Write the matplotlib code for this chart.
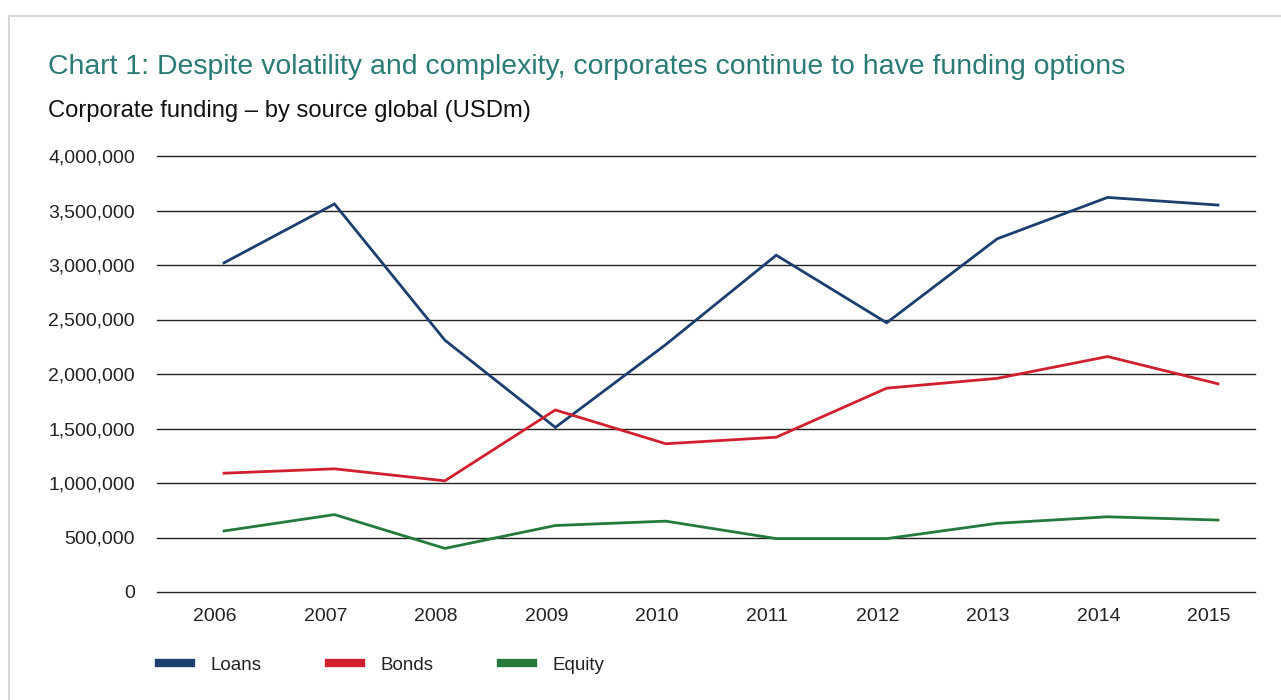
import matplotlib
matplotlib.use("Agg")
import matplotlib.pyplot as plt
from matplotlib.patches import Rectangle
from matplotlib.ticker import FuncFormatter
from matplotlib.transforms import ScaledTranslation

plt.rcParams['font.family'] = ['Liberation Sans', 'DejaVu Sans']

years = ['2006', '2007', '2008', '2009', '2010', '2011', '2012', '2013', '2014', '2015']
loans = [3020000, 3560000, 2310000, 1510000, 2270000, 3090000, 2470000, 3240000, 3620000, 3550000]
bonds = [1090000, 1130000, 1020000, 1670000, 1360000, 1420000, 1870000, 1960000, 2160000, 1910000]
equity = [560000, 710000, 400000, 610000, 650000, 490000, 490000, 630000, 690000, 660000]

series_names = ['Loans', 'Bonds', 'Equity']
series_colors = ['#1b3f6e', '#d0202e', '#237a3b']

W, H = 1281, 700
fig = plt.figure(figsize=(W / 100, H / 100), dpi=100)

# light frame around the panel
fig.patches.append(Rectangle((9 / W, -0.05), 1.2, 1 - 16 / H + 0.05, transform=fig.transFigure,
                             facecolor='none', edgecolor='#d6d6d6', linewidth=1.5))

fig.text(48 / W, 1 - 74 / H, 'Chart 1: Despite volatility and complexity, corporates continue to have funding options',
         color='#2a7a75', fontsize=20.4, ha='left', va='baseline')
fig.text(48 / W, 1 - 117 / H, 'Corporate funding \u2013 by source global (USDm)',
         color='#111111', fontsize=17.1, ha='left', va='baseline')

ax = fig.add_axes([157 / W, 1 - 592 / H, (1255 - 157) / W, (592 - 156) / H])
x = list(range(len(years)))
for vals, name, col in zip([loans, bonds, equity], series_names, series_colors):
    ax.plot(x, vals, color=col, linewidth=2.0, label=name, solid_joinstyle='miter')

ax.set_ylim(0, 4000000)
ax.set_xlim(-0.607, 9.335)
ax.set_yticks(range(0, 4000001, 500000))
ax.yaxis.set_major_formatter(FuncFormatter(lambda v, p: f'{int(v):,}'))
ax.set_xticks(x)
ax.set_xticklabels(years)
ax.grid(axis='y', color='#222222', linewidth=1.0)
for gl in ax.get_ygridlines():
    gl.set_clip_on(False)
ax.set_axisbelow(True)
for s in ax.spines.values():
    s.set_visible(False)
ax.tick_params(axis='both', length=0, labelsize=14, labelcolor='#222222')
ax.tick_params(axis='y', pad=16)
ax.tick_params(axis='x', pad=11.5)
shift = ScaledTranslation(-9 / 100, 0, fig.dpi_scale_trans)
for lbl in ax.get_xticklabels():
    lbl.set_transform(lbl.get_transform() + shift)

handles, labels = ax.get_legend_handles_labels()
leg = fig.legend(handles, labels, loc='center left', bbox_to_anchor=(142 / W, 1 - 665 / H), ncol=3,
                 frameon=False, fontsize=13.5, handlelength=1.7, handletextpad=1.05, columnspacing=3.6)
for h in leg.legend_handles:
    h.set_linewidth(6)
for t in leg.get_texts():
    t.set_color('#222222')

fig.savefig('out.png', dpi=100)
